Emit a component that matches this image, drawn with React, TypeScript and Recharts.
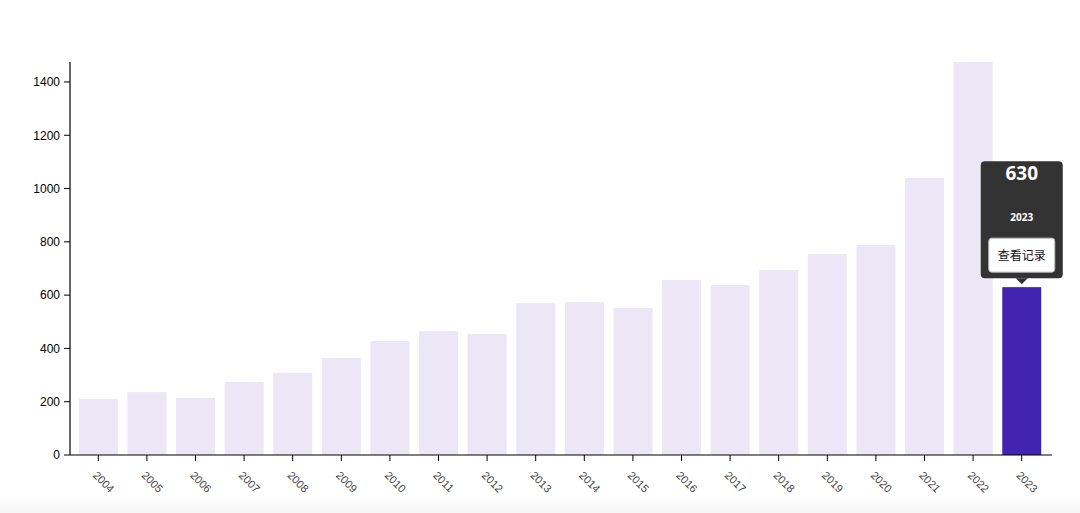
import React from 'react';
import { BarChart, Bar, XAxis, YAxis, Cell } from 'recharts';

const years = ['2004','2005','2006','2007','2008','2009','2010','2011','2012','2013','2014','2015','2016','2017','2018','2019','2020','2021','2022','2023'];
const counts = [210, 236, 214, 274, 308, 364, 428, 465, 454, 570, 574, 552, 657, 638, 694, 754, 788, 1040, 1475, 630];
const yTicks = [0, 200, 400, 600, 800, 1000, 1200, 1400];
const highlightYear = '2023';
const buttonLabel = '查看记录';

const data = years.map((y, i) => ({ year: y, count: counts[i] }));

const XTick = (props: any) => {
  const { x, y, payload } = props;
  return (
    <g transform={`translate(${x - 6},${y + 13})`}>
      <text transform="rotate(45)" textAnchor="start" fontSize={11} fill="#444" fontFamily="Liberation Sans, Arial, sans-serif">
        {payload.value}
      </text>
    </g>
  );
};

const BarShape = (props: any) => {
  const { x, y, width, height, fill, payload } = props;
  const isHi = payload && payload.year === highlightYear;
  const cx = x + width / 2;
  const bw = 82;
  const bottom = y - 9;
  const top = bottom - 117;
  const left = cx - bw / 2;
  return (
    <g>
      <rect x={x} y={y} width={width} height={height} fill={fill} />
      {isHi && (
        <g fontFamily="Noto Sans, Open Sans, sans-serif">
          <rect x={left} y={top} width={bw} height={117} rx={4} ry={4} fill="#333333" />
          <path d={`M${cx - 6},${bottom} L${cx + 6},${bottom} L${cx},${bottom + 6} Z`} fill="#333333" />
          <text x={cx} y={top + 19} textAnchor="middle" fontSize={19} fontWeight="bold" fill="#fff">{payload.count}</text>
          <text x={cx} y={top + 60} textAnchor="middle" fontSize={10} fontWeight="bold" fill="#fff">{payload.year}</text>
          <rect x={left + 8} y={top + 77} width={bw - 16} height={34} rx={3} ry={3} fill="#fff" stroke="#bbb" strokeWidth={1} />
          <text x={cx} y={top + 99} textAnchor="middle" fontSize={12} fill="#111" fontFamily="Noto Sans CJK SC, sans-serif">{buttonLabel}</text>
        </g>
      )}
    </g>
  );
};

export default function App() {
  return (
    <div style={{ position: 'absolute', left: 0, top: 0, width: 1080, height: 513, background: 'linear-gradient(to bottom, #ffffff 0%, #ffffff 97%, #f5f5f5 100%)' }}>
      <BarChart width={1080} height={513} data={data} margin={{ top: 62, right: 28, bottom: 0, left: 10 }} barCategoryGap="10%">
        <XAxis
          dataKey="year"
          tick={<XTick />}
          interval={0}
          height={58}
          padding={{ left: 4, right: 6 }}
          axisLine={{ stroke: '#000', strokeWidth: 1.2 }}
          tickLine={{ stroke: '#000' }}
          tickSize={6}
        />
        <YAxis
          domain={[0, 'dataMax']}
          ticks={yTicks}
          width={60}
          tickSize={6}
          tickMargin={4}
          axisLine={{ stroke: '#000', strokeWidth: 1.2 }}
          tickLine={{ stroke: '#000' }}
          tick={{ fill: '#000', fontSize: 12, fontFamily: 'Liberation Sans, Arial, sans-serif' }}
        />
        <Bar dataKey="count" isAnimationActive={false} shape={<BarShape />}>
          {data.map((d) => (
            <Cell key={d.year} fill={d.year === highlightYear ? '#4224b0' : '#ece7f7'} />
          ))}
        </Bar>
      </BarChart>
    </div>
  );
}
